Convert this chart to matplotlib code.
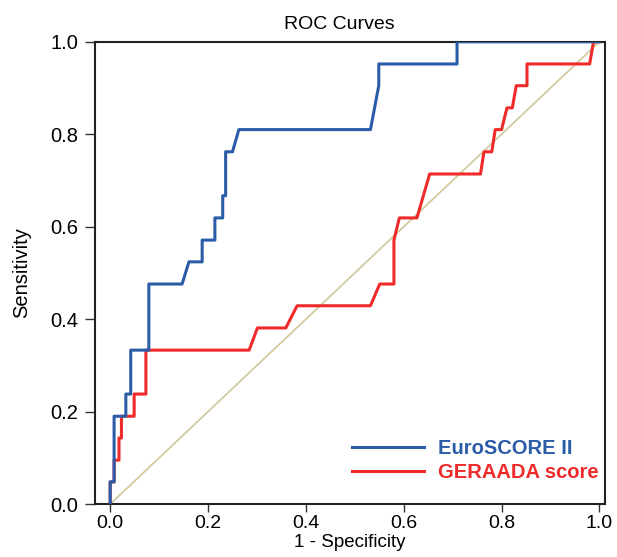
import matplotlib
matplotlib.use("Agg")
import matplotlib.pyplot as plt

plt.rcParams['font.family'] = ['Liberation Sans', 'DejaVu Sans']

euro_fpr = [0, 0, 0.008, 0.008, 0.032, 0.032, 0.042, 0.042, 0.079, 0.079,
            0.147, 0.161, 0.188, 0.188, 0.214, 0.214, 0.23, 0.23, 0.236, 0.236,
            0.25, 0.263, 0.532, 0.549, 0.549, 0.709, 0.709, 1.0]
euro_tpr = [0, 0.048, 0.048, 0.190, 0.190, 0.238, 0.238, 0.333, 0.333, 0.476,
            0.476, 0.524, 0.524, 0.571, 0.571, 0.619, 0.619, 0.667, 0.667, 0.762,
            0.762, 0.810, 0.810, 0.905, 0.952, 0.952, 1.0, 1.0]

ger_fpr = [0, 0, 0.008, 0.008, 0.018, 0.018, 0.023, 0.023, 0.049, 0.049,
           0.073, 0.073, 0.284, 0.301, 0.359, 0.382, 0.532, 0.551, 0.58, 0.58,
           0.591, 0.627, 0.653, 0.757, 0.764, 0.78, 0.787, 0.8, 0.811, 0.822,
           0.83, 0.852, 0.852, 0.98, 0.988, 1.0]
ger_tpr = [0, 0.048, 0.048, 0.095, 0.095, 0.143, 0.143, 0.190, 0.190, 0.238,
           0.238, 0.333, 0.333, 0.381, 0.381, 0.429, 0.429, 0.476, 0.476, 0.571,
           0.619, 0.619, 0.714, 0.714, 0.762, 0.762, 0.810, 0.810, 0.857, 0.857,
           0.905, 0.905, 0.952, 0.952, 1.0, 1.0]

ref_line = [0, 1]
ticks = [0.0, 0.2, 0.4, 0.6, 0.8, 1.0]
tick_labels = ["0.0", "0.2", "0.4", "0.6", "0.8", "1.0"]

BLUE = '#2b5ca8'
RED = '#ee2a2a'

fig = plt.figure(figsize=(6.17, 5.57), dpi=100)
ax = fig.add_axes([0.154, 0.095, 0.827, 0.830])

ax.plot(ref_line, ref_line, color='#d3caa0', lw=1.3, zorder=1)
ax.plot(ger_fpr, ger_tpr, color=RED, lw=2.2, label='GERAADA score', zorder=2)
ax.plot(euro_fpr, euro_tpr, color=BLUE, lw=2.2, label='EuroSCORE II', zorder=3)

ax.set_xlim(-0.031, 1.012)
ax.set_ylim(0, 1)
ax.set_xticks(ticks)
ax.set_xticklabels(tick_labels)
ax.set_yticks(ticks)
ax.set_yticklabels(tick_labels)
ax.tick_params(direction='out', length=7, width=1.0, labelsize=14.5, color='#333333', pad=5)
ax.tick_params(axis='x', length=6, pad=2, labelsize=14)
for s in ax.spines.values():
    s.set_linewidth(1.5)
    s.set_color('#222222')

ax.set_title('ROC Curves', fontsize=14, pad=9, x=0.478)
ax.set_xlabel('1 - Specificity', fontsize=13.5, labelpad=1)
ax.set_ylabel('Sensitivity', fontsize=14.5, labelpad=14)

h, l = ax.get_legend_handles_labels()
leg = ax.legend(h[::-1], l[::-1], loc='center left', frameon=False,
                prop={'weight': 'bold', 'size': 14.5}, handlelength=3.55,
                handletextpad=0.7, borderpad=0, borderaxespad=0,
                labelspacing=0.25, bbox_to_anchor=(0.504, 0.094))
for t, c in zip(leg.get_texts(), [BLUE, RED]):
    t.set_color(c)

fig.savefig('out.png', dpi=100)
